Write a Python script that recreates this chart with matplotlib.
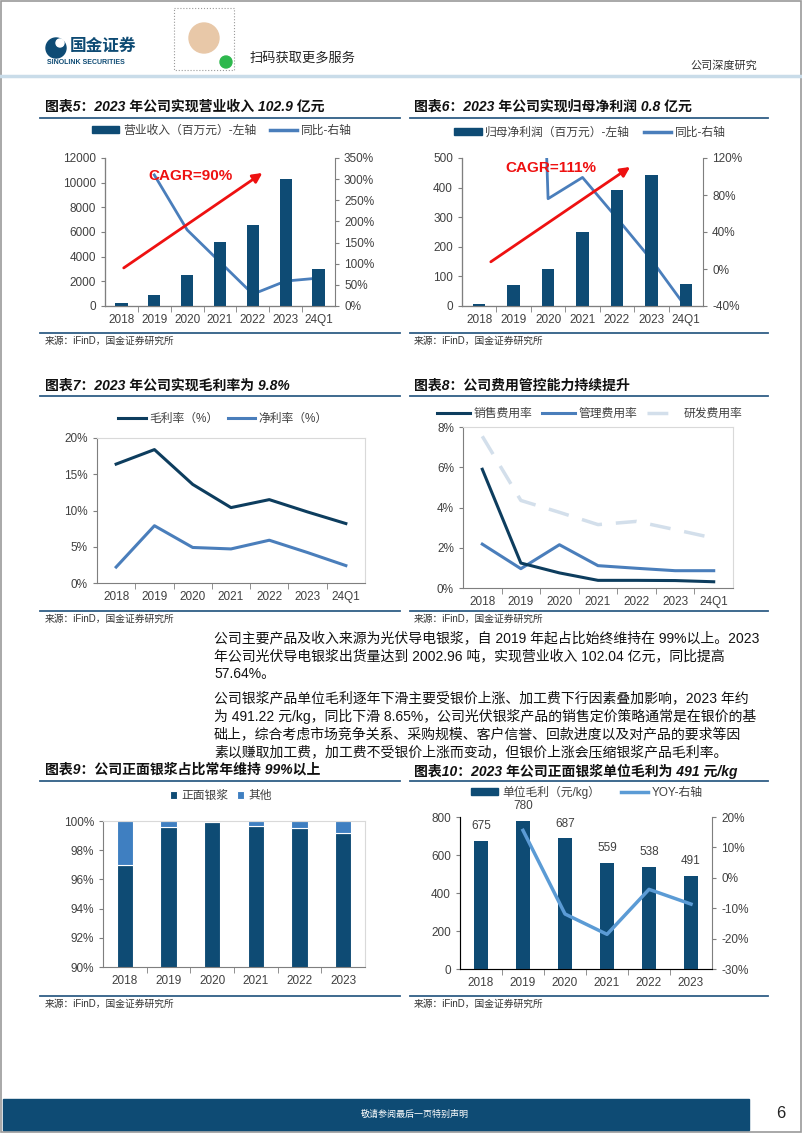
import numpy as np
import matplotlib.pyplot as plt
from matplotlib.patches import Rectangle, Circle, Patch
from matplotlib.lines import Line2D

plt.rcParams['font.family'] = ['Liberation Sans', 'Noto Sans CJK SC', 'DejaVu Sans']
plt.rcParams['axes.unicode_minus'] = False

# ---- 数据 ----
years7 = ['2018', '2019', '2020', '2021', '2022', '2023', '24Q1']
years6 = ['2018', '2019', '2020', '2021', '2022', '2023']

revenue = [270, 920, 2550, 5160, 6570, 10320, 2990]          # 百万元
revenue_yoy = [np.nan, 310, 180, 104, 28, 59, 66]           # %

profit = [5.6, 72, 126, 251, 391, 442, 76]                   # 百万元
profit_yoy = [np.nan, 1190, 76, 99, 55, 10, -41]             # %

gross_margin = [16.4, 18.4, 13.6, 10.4, 11.5, 9.8, 8.2]
net_margin = [2.2, 7.9, 4.9, 4.7, 5.9, 4.2, 2.4]

sales_rate = [5.9, 1.24, 0.75, 0.38, 0.38, 0.37, 0.31]
admin_rate = [2.18, 0.96, 2.15, 1.11, 0.98, 0.86, 0.86]
rd_rate = [7.54, 4.35, 3.76, 3.15, 3.31, 2.9, 2.48]

front_share = [97.0, 99.6, 99.95, 99.64, 99.5, 99.15]

unit_profit = [675, 780, 687, 559, 538, 491]
unit_yoy = [np.nan, 15.6, -11.9, -18.6, -3.8, -8.65]

para1 = ['公司主要产品及收入来源为光伏导电银浆，自 2019 年起占比始终维持在 99%以上。2023',
         '年公司光伏导电银浆出货量达到 2002.96 吨，实现营业收入 102.04 亿元，同比提高',
         '57.64%。']
para2 = ['公司银浆产品单位毛利逐年下滑主要受银价上涨、加工费下行因素叠加影响，2023 年约',
         '为 491.22 元/kg，同比下滑 8.65%，公司光伏银浆产品的销售定价策略通常是在银价的基',
         '础上，综合考虑市场竞争关系、采购规模、客户信誉、回款进度以及对产品的要求等因',
         '素以赚取加工费，加工费不受银价上涨而变动，但银价上涨会压缩银浆产品毛利率。']

NAVY = '#0E4B74'
MID = '#4A7EBB'
LIGHT = '#5B9BD5'
PALE = '#D3DFEB'
TXT = '#404040'
SPINE = '#7F7F7F'
FS = 8.5

W, H = 802, 1133
fig = plt.figure(figsize=(W / 100, H / 100), dpi=100)

# 背景层，像素坐标
bg = fig.add_axes([0, 0, 1, 1])
bg.set_xlim(0, W)
bg.set_ylim(H, 0)
bg.axis('off')


def px_axes(x0, y0, x1, y1):
    return fig.add_axes([x0 / W, 1 - y1 / H, (x1 - x0) / W, (y1 - y0) / H])


def style_axes(ax, n, box=False):
    for s in ['top', 'right']:
        ax.spines[s].set_visible(box)
        ax.spines[s].set_color('#D9D9D9')
    ax.spines['left'].set_color(SPINE)
    ax.spines['bottom'].set_color(SPINE)
    ax.set_xlim(-0.5, n - 0.5)
    ax.set_xticks(range(n))
    ax.set_xticks(np.arange(0.5, n - 1, 1), minor=True)
    ax.tick_params(axis='x', which='major', length=0, pad=6, labelsize=FS, labelcolor=TXT)
    ax.tick_params(axis='x', which='minor', length=4, color=SPINE)
    ax.tick_params(axis='y', length=3, color=SPINE, labelsize=FS, labelcolor=TXT)


def style_right(ax2):
    ax2.spines['top'].set_visible(False)
    ax2.spines['right'].set_color(SPINE)
    ax2.tick_params(axis='y', length=3, color=SPINE, labelsize=FS, labelcolor=TXT)


# ---- 页眉 ----
bg.add_patch(Circle((56, 48), 10, color=NAVY))
bg.add_patch(Circle((60, 43), 4, color='white'))
bg.text(70, 46, '国金证券', fontsize=12, fontweight='bold', color=NAVY, va='center')
bg.text(47, 62, 'SINOLINK SECURITIES', fontsize=5, fontweight='bold', color=NAVY, va='center')
bg.add_patch(Rectangle((174, 8), 60, 62, fill=False, ec='#9a9a9a', lw=0.8, ls=':'))
bg.add_patch(Circle((204, 38), 15, color='#E8C8A8'))
bg.add_patch(Circle((226, 62), 6, color='#2DB84D'))
bg.text(250, 58, '扫码获取更多服务', fontsize=9.5, color='#222222', va='center')
bg.text(690, 66, '公司深度研究', fontsize=8, color='#333333', va='center')
bg.plot([0, W], [76, 76], color='#C9DCE9', lw=2.5)

# 页框
bg.add_patch(Rectangle((1, 1), W - 2, H - 2, fill=False, ec='#9a9a9a', lw=1.2))

# 标题 / 来源
titles = [(45, 107, '图表5：2023 年公司实现营业收入 102.9 亿元'),
          (414, 107, '图表6：2023 年公司实现归母净利润 0.8 亿元'),
          (45, 386, '图表7：2023 年公司实现毛利率为 9.8%'),
          (414, 386, '图表8：公司费用管控能力持续提升'),
          (45, 770, '图表9：公司正面银浆占比常年维持 99%以上'),
          (414, 771, '图表10：2023 年公司正面银浆单位毛利为 491 元/kg')]
for x, y, t in titles:
    bg.text(x, y, t, fontsize=10, fontweight='bold', fontstyle='italic', color='#111111', va='center')

for y in [118, 396, 781]:
    bg.plot([40, 400], [y, y], color='#2F5E86', lw=1.3)
    bg.plot([410, 768], [y, y], color='#2F5E86', lw=1.3)
for y in [333, 611, 996]:
    bg.plot([40, 400], [y, y], color='#2F5E86', lw=1.3)
    bg.plot([410, 768], [y, y], color='#2F5E86', lw=1.3)
    bg.text(45, y + 8, '来源：iFinD，国金证券研究所', fontsize=7, color='#333333', va='center')
    bg.text(414, y + 8, '来源：iFinD，国金证券研究所', fontsize=7, color='#333333', va='center')

# 正文
for i, line in enumerate(para1):
    bg.text(214, 638 + i * 18, line, fontsize=10, color='#111111', va='center')
for i, line in enumerate(para2):
    bg.text(214, 698 + i * 18, line, fontsize=10, color='#111111', va='center')

# 页脚
bg.add_patch(Rectangle((3, 1099), 746, 31, color='#0E4B74'))
bg.text(415, 1114, '敬请参阅最后一页特别声明', fontsize=6.5, color='white', ha='center', va='center')
bg.text(781, 1114, '6', fontsize=12, color='#222222', ha='center', va='center')

x7 = np.arange(7)
x6 = np.arange(6)

# ---- 图表5 ----
ax = px_axes(105, 158, 335, 306)
ax.bar(x7, revenue, width=0.37, color=NAVY, zorder=2)
ax.set_ylim(0, 12000)
ax.set_yticks(range(0, 12001, 2000))
style_axes(ax, 7)
ax.set_xticklabels(years7)
ax2 = ax.twinx()
ax2.plot(x7, revenue_yoy, color=MID, lw=2)
ax2.set_ylim(0, 350)
ax2.set_yticks(range(0, 351, 50))
ax2.set_yticklabels([f'{v}%' for v in range(0, 351, 50)])
style_right(ax2)
ax.annotate('', xy=(4.36, 10915), xytext=(0, 2960),
            arrowprops=dict(arrowstyle='-|>', color='#EE1111', lw=2, mutation_scale=14), zorder=5)
ax.text(2.1, 10500, 'CAGR=90%', color='#EE1111', fontsize=11, fontweight='bold', ha='center', va='center', zorder=6)
ax.set_zorder(ax2.get_zorder() + 1)
ax.patch.set_visible(False)
fig.legend(handles=[Patch(color=NAVY, label='营业收入（百万元）-左轴'),
                    Line2D([], [], color=MID, lw=2.5, label='同比-右轴')],
           loc='center', bbox_to_anchor=(222 / W, 1 - 131 / H), ncol=2, frameon=False,
           fontsize=FS, handlelength=2.3, handleheight=0.5, columnspacing=1.2, handletextpad=0.3,
           labelcolor=TXT)

# ---- 图表6 ----
ax = px_axes(462, 158, 703, 306)
ax.bar(x7, profit, width=0.36, color=NAVY, zorder=2)
ax.set_ylim(0, 500)
ax.set_yticks(range(0, 501, 100))
style_axes(ax, 7)
ax.set_xticklabels(years7)
ax2 = ax.twinx()
ax2.plot(x7, profit_yoy, color=MID, lw=2)
ax2.set_ylim(-40, 120)
ax2.set_yticks(range(-40, 121, 40))
ax2.set_yticklabels([f'{v}%' for v in range(-40, 121, 40)])
style_right(ax2)
ax.annotate('', xy=(4.45, 475), xytext=(0.27, 144),
            arrowprops=dict(arrowstyle='-|>', color='#EE1111', lw=2, mutation_scale=14), zorder=5)
ax.text(2.07, 466, 'CAGR=111%', color='#EE1111', fontsize=11, fontweight='bold', ha='center', va='center', zorder=6)
ax.set_zorder(ax2.get_zorder() + 1)
ax.patch.set_visible(False)
fig.legend(handles=[Patch(color=NAVY, label='归母净利润（百万元）-左轴'),
                    Line2D([], [], color=MID, lw=2.5, label='同比-右轴')],
           loc='center', bbox_to_anchor=(590 / W, 1 - 133 / H), ncol=2, frameon=False,
           fontsize=FS, handlelength=2.3, handleheight=0.5, columnspacing=1.2, handletextpad=0.3,
           labelcolor=TXT)

# ---- 图表7 ----
ax = px_axes(97, 438, 365, 583)
ax.plot(x7, gross_margin, color='#0D3D5E', lw=2.2, label='毛利率（%）')
ax.plot(x7, net_margin, color=MID, lw=2.2, label='净利率（%）')
ax.set_ylim(0, 20)
ax.set_yticks(range(0, 21, 5))
ax.set_yticklabels([f'{v}%' for v in range(0, 21, 5)])
style_axes(ax, 7, box=True)
ax.set_xticklabels(years7)
ax.legend(loc='center', bbox_to_anchor=(0.47, 1.13), ncol=2, frameon=False, fontsize=FS,
          handlelength=2.3, columnspacing=0.8, handletextpad=0.3, labelcolor=TXT)

# ---- 图表8 ----
ax = px_axes(463, 427, 733, 588)
ax.plot(x7, rd_rate, color=PALE, lw=2.5, dashes=(6, 4), label='研发费用率')
ax.plot(x7, admin_rate, color=MID, lw=2.2, label='管理费用率')
ax.plot(x7, sales_rate, color='#0D3D5E', lw=2.2, label='销售费用率')
ax.set_ylim(0, 8)
ax.set_yticks(range(0, 9, 2))
ax.set_yticklabels([f'{v}%' for v in range(0, 9, 2)])
style_axes(ax, 7, box=True)
ax.set_xticklabels(years7)
h, l = ax.get_legend_handles_labels()
ax.legend(h[::-1], l[::-1], loc='center', bbox_to_anchor=(0.47, 1.08), ncol=3, frameon=False,
          fontsize=FS, handlelength=2.8, columnspacing=0.8, handletextpad=0.3, labelcolor=TXT)

# ---- 图表9 ----
ax = px_axes(103, 821, 365, 967)
other_share = [100 - v for v in front_share]
ax.bar(x6, front_share, width=0.37, color=NAVY, edgecolor='white', lw=0.8, label='正面银浆', zorder=2)
ax.bar(x6, other_share, bottom=front_share, width=0.37, color='#3F7FC1', edgecolor='white', lw=0.8,
       label='其他', zorder=2)
ax.set_ylim(90, 100)
ax.set_yticks(range(90, 101, 2))
ax.set_yticklabels([f'{v}%' for v in range(90, 101, 2)])
style_axes(ax, 6, box=True)
ax.set_xticklabels(years6)
ax.legend(loc='center', bbox_to_anchor=(0.45, 1.17), ncol=2, frameon=False, fontsize=FS,
          handlelength=0.6, handleheight=0.6, columnspacing=0.8, handletextpad=0.3, labelcolor=TXT)

# ---- 图表10 ----
ax = px_axes(460, 817, 712, 969)
ax.bar(x6, unit_profit, width=0.34, color=NAVY, zorder=2)
for xi, v in zip(x6, unit_profit):
    ax.annotate(str(v), (xi, v), xytext=(0, 6), textcoords='offset points', ha='center', va='bottom',
                fontsize=FS, color=TXT)
ax.set_ylim(0, 800)
ax.set_yticks(range(0, 801, 200))
style_axes(ax, 6)
ax.set_xticklabels(years6)
ax2 = ax.twinx()
ax2.plot(x6, unit_yoy, color=LIGHT, lw=2.5)
ax2.set_ylim(-30, 20)
ax2.set_yticks(range(-30, 21, 10))
ax2.set_yticklabels([f'{v}%' for v in range(-30, 21, 10)])
style_right(ax2)
ax2.set_zorder(ax.get_zorder() + 1)
fig.legend(handles=[Patch(color=NAVY, label='单位毛利（元/kg）'),
                    Line2D([], [], color=LIGHT, lw=2.5, label='YOY-右轴')],
           loc='center', bbox_to_anchor=(587 / W, 1 - 792 / H), ncol=2, frameon=False,
           fontsize=FS, handlelength=2.3, handleheight=0.5, columnspacing=1.8, handletextpad=0.3,
           labelcolor=TXT)

fig.savefig('out.png', dpi=100)
